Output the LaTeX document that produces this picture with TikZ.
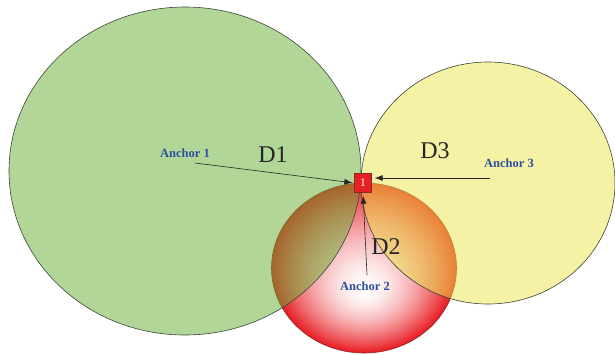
\documentclass[tikz,border=0pt]{standalone}
\usepackage{fontspec}
\setmainfont{Liberation Serif}
\usepackage{xcolor}
\usetikzlibrary{arrows,positioning}
\usetikzlibrary{arrows.meta}

\definecolor{rangegreen}{RGB}{101,173,49}
\definecolor{rangeyellow}{RGB}{235,229,75}
\definecolor{rangered}{RGB}{232,32,38}
\definecolor{anchorblue}{RGB}{46,78,160}
\definecolor{rim}{RGB}{62,68,52}
\definecolor{redrim}{RGB}{140,40,40}

\begin{document}
\begin{tikzpicture}[x=1pt,y=-1pt,>={Latex[length=8pt,width=6pt]},every node/.append style={align=center},
  rangedisc/.style={draw=rim, line width=0.6pt, fill opacity=0.5},
  anchorlbl/.style={text=anchorblue, font=\fontsize{12.5}{14}\selectfont\bfseries},
  dist/.style={text=black!85, font=\fontsize{24}{26}\selectfont},
  beacon/.style={shape=rectangle, draw=redrim, fill=rangered, text=white, minimum width=17pt, minimum height=19pt, inner sep=0pt, font=\fontsize{11.5}{12}\selectfont},
  pointer/.style={->, draw=black!85, line width=0.6pt}]
    \useasboundingbox (0,0) rectangle (615,354);
    % red range, path gradient towards a low focus
    \foreach \i in {40,39,...,1} {
      \pgfmathsetmacro\t{\i/40}
      \pgfmathsetmacro\cx{365-1*\t}
      \pgfmathsetmacro\cy{292-24*\t}
      \pgfmathsetmacro\pct{100*\t^1.6}
      \fill[rangered!\pct!white] (\cx,\cy) ellipse [x radius=92.5*\t, y radius=85*\t];
    }
    \draw[redrim, line width=0.6pt] (364,268) ellipse [x radius=92.5, y radius=85];
    % green and yellow ranges
    \draw[rangedisc, fill=rangegreen] (185,171) ellipse [x radius=176, y radius=164];
    \draw[rangedisc, fill=rangeyellow] (488,183) ellipse [x radius=127, y radius=121];
    % unknown node
    \node [beacon] (unk) at (363,183) {1};
    \node [anchorlbl] (A1) at (185,153) {Anchor 1};
    \node [anchorlbl] (A2) at (365,286) {Anchor 2};
    \node [anchorlbl] (A3) at (509,163) {Anchor 3};
    \node [dist] (D1) at (273,155) {D1};
    \node [dist] (D2) at (386,247) {D2};
    \node [dist] (D3) at (435,151) {D3};
    \coordinate (tail1) at (195,163);
    \coordinate (tail2) at (367,275);
    \coordinate (tail3) at (490,178);
    \draw[pointer, shorten >=2pt] (tail1) -- (unk.west);
    \draw[pointer, shorten >=3pt] (tail2) -- (unk.south);
    \draw[pointer, shorten >=3pt] (tail3) -- (tail3 -| unk.east);
\end{tikzpicture}
\end{document}
